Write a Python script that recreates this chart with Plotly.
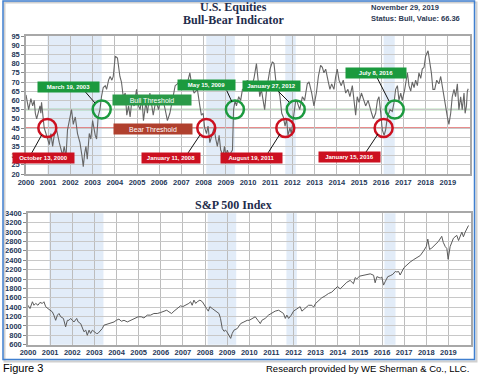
import plotly.graph_objects as go

W, H = 481, 375

# ---------------- data ----------------
bb_year = [2000.00, 2000.12, 2000.22, 2000.30, 2000.37, 2000.42, 2000.48, 2000.57, 2000.63, 2000.67,
           2000.70, 2000.76, 2000.82, 2000.90, 2000.97, 2001.05, 2001.12, 2001.20, 2001.27, 2001.38,
           2001.50, 2001.57, 2001.65, 2001.72, 2001.80, 2001.87, 2001.99, 2002.05, 2002.13, 2002.22,
           2002.32, 2002.43, 2002.52, 2002.58, 2002.64, 2002.70, 2002.76, 2002.85, 2002.92, 2003.00,
           2003.12, 2003.18, 2003.25, 2003.33, 2003.40, 2003.48, 2003.57, 2003.63, 2003.72, 2003.79,
           2003.87, 2003.93, 2004.02, 2004.12, 2004.23, 2004.30, 2004.38, 2004.47, 2004.54, 2004.62,
           2004.69, 2004.77, 2004.87, 2004.98, 2005.07, 2005.14, 2005.22, 2005.29, 2005.40, 2005.47,
           2005.58, 2005.65, 2005.73, 2005.85, 2005.97, 2006.07, 2006.18, 2006.27, 2006.37, 2006.48,
           2006.60, 2006.72, 2006.82, 2006.97, 2007.08, 2007.20, 2007.38, 2007.47, 2007.57, 2007.72,
           2007.83, 2007.90, 2007.98, 2008.05, 2008.13, 2008.20, 2008.28, 2008.40, 2008.47, 2008.55,
           2008.62, 2008.70, 2008.77, 2008.88, 2008.94, 2009.00, 2009.07, 2009.15, 2009.24, 2009.30,
           2009.35, 2009.42, 2009.48, 2009.58, 2009.67, 2009.75, 2009.82, 2009.97, 2010.12, 2010.27,
           2010.38, 2010.45, 2010.53, 2010.60, 2010.68, 2010.75, 2010.84, 2010.92, 2010.99, 2011.10,
           2011.17, 2011.25, 2011.32, 2011.44, 2011.52, 2011.59, 2011.67, 2011.74, 2011.80, 2011.89,
           2011.95, 2012.04, 2012.15, 2012.22, 2012.33, 2012.45, 2012.55, 2012.67, 2012.75, 2012.87,
           2012.97, 2013.08, 2013.17, 2013.27, 2013.35, 2013.42, 2013.50, 2013.60, 2013.69, 2013.77,
           2013.87, 2013.95, 2014.02, 2014.10, 2014.20, 2014.29, 2014.40, 2014.50, 2014.59, 2014.70,
           2014.77, 2014.85, 2014.92, 2015.00, 2015.11, 2015.20, 2015.30, 2015.41, 2015.50, 2015.57,
           2015.65, 2015.75, 2015.83, 2015.90, 2015.98, 2016.05, 2016.13, 2016.20, 2016.28, 2016.40,
           2016.50, 2016.58, 2016.65, 2016.73, 2016.80, 2016.88, 2016.95, 2017.06, 2017.18, 2017.25,
           2017.33, 2017.40, 2017.48, 2017.55, 2017.63, 2017.70, 2017.78, 2017.85, 2017.93, 2018.00,
           2018.11, 2018.18, 2018.26, 2018.33, 2018.41, 2018.50, 2018.60, 2018.68, 2018.75, 2018.83,
           2018.90, 2018.98, 2019.05, 2019.13, 2019.20, 2019.28, 2019.35, 2019.43, 2019.50, 2019.58,
           2019.65, 2019.73, 2019.78, 2019.84, 2019.88, 2019.92]
bb_value = [63, 55, 61, 57, 60, 53, 50, 55, 57, 53,
            59, 52, 45, 42, 39, 36, 42, 35, 41, 44,
            37, 33, 30, 35, 29, 44, 53, 55, 47, 51,
            42, 37, 30, 24, 31, 35, 28, 42, 39, 49,
            41, 39, 51, 55, 62, 67, 68, 66, 71, 73,
            71, 73, 84, 83, 73, 70, 62, 64, 52, 57,
            51, 60, 57, 66, 57, 55, 62, 49, 59, 53,
            64, 59, 52, 60, 55, 62, 60, 55, 49, 53,
            60, 68, 69, 71, 69, 66, 75, 68, 64, 66,
            57, 52, 53, 45, 42, 46, 37, 42, 45, 39,
            35, 41, 33, 30, 35, 30, 33, 30, 32, 33,
            55, 60, 57, 62, 60, 66, 66, 71, 66, 72,
            80, 71, 62, 66, 60, 55, 66, 71, 77, 81,
            80, 71, 69, 62, 53, 51, 46, 50, 41, 45,
            42, 50, 60, 59, 55, 62, 60, 69, 70, 64,
            57, 64, 73, 79, 78, 75, 77, 71, 66, 69,
            66, 73, 77, 71, 68, 71, 64, 66, 62, 68,
            60, 52, 62, 59, 64, 60, 57, 60, 55, 53,
            50, 53, 60, 62, 53, 44, 41, 44, 51, 55,
            54, 59, 66, 68, 60, 64, 60, 66, 75, 68,
            65, 70, 67, 71, 68, 75, 72, 77, 78, 84,
            87, 82, 75, 66, 66, 71, 69, 73, 68, 62,
            55, 51, 47, 53, 62, 66, 62, 69, 55, 62,
            55, 64, 53, 57, 65, 66.36]

spx_year = [2000.00, 2000.09, 2000.20, 2000.27, 2000.35, 2000.45, 2000.54, 2000.65, 2000.72, 2000.80,
            2000.90, 2000.99, 2001.10, 2001.17, 2001.25, 2001.33, 2001.40, 2001.48, 2001.60, 2001.70,
            2001.78, 2001.85, 2001.93, 2002.00, 2002.08, 2002.20, 2002.27, 2002.38, 2002.45, 2002.53,
            2002.61, 2002.68, 2002.76, 2002.83, 2002.91, 2003.00, 2003.09, 2003.16, 2003.25, 2003.36,
            2003.43, 2003.58, 2003.73, 2003.89, 2003.99, 2004.11, 2004.22, 2004.34, 2004.49, 2004.64,
            2004.79, 2004.98, 2005.12, 2005.24, 2005.39, 2005.54, 2005.69, 2005.84, 2005.99, 2006.14,
            2006.27, 2006.37, 2006.49, 2006.60, 2006.75, 2006.90, 2006.99, 2007.12, 2007.27, 2007.35,
            2007.42, 2007.50, 2007.58, 2007.65, 2007.77, 2007.88, 2008.00, 2008.07, 2008.15, 2008.22,
            2008.33, 2008.42, 2008.52, 2008.63, 2008.70, 2008.78, 2008.86, 2008.93, 2008.99, 2009.08,
            2009.16, 2009.23, 2009.31, 2009.46, 2009.61, 2009.76, 2009.91, 2010.00, 2010.12, 2010.27,
            2010.39, 2010.50, 2010.57, 2010.72, 2010.87, 2010.99, 2011.17, 2011.33, 2011.45, 2011.55,
            2011.63, 2011.70, 2011.78, 2011.90, 2012.00, 2012.15, 2012.30, 2012.38, 2012.50, 2012.68,
            2012.83, 2012.91, 2013.00, 2013.13, 2013.28, 2013.43, 2013.58, 2013.73, 2013.89, 2013.99,
            2014.11, 2014.26, 2014.41, 2014.56, 2014.71, 2014.79, 2014.86, 2014.98, 2015.17, 2015.32,
            2015.47, 2015.62, 2015.69, 2015.77, 2015.92, 2015.99, 2016.07, 2016.14, 2016.26, 2016.37,
            2016.49, 2016.60, 2016.67, 2016.75, 2016.82, 2016.99, 2017.12, 2017.27, 2017.42, 2017.58,
            2017.73, 2017.88, 2018.00, 2018.07, 2018.15, 2018.25, 2018.40, 2018.55, 2018.70, 2018.77,
            2018.86, 2018.93, 2018.99, 2019.08, 2019.23, 2019.38, 2019.46, 2019.61, 2019.68, 2019.76,
            2019.91]
spx_value = [1440, 1370, 1515, 1440, 1480, 1440, 1500, 1480, 1515, 1410,
             1370, 1335, 1300, 1230, 1120, 1230, 1265, 1195, 1160, 980,
             1120, 1120, 1160, 1120, 1085, 1160, 1085, 1050, 945, 875,
             910, 800, 910, 840, 910, 875, 840, 840, 885, 945,
             1015, 1035, 1050, 1085, 1120, 1145, 1100, 1120, 1085, 1120,
             1160, 1195, 1195, 1170, 1230, 1230, 1265, 1265, 1285, 1315,
             1335, 1300, 1265, 1315, 1370, 1430, 1410, 1440, 1480, 1515,
             1440, 1550, 1480, 1515, 1550, 1515, 1440, 1370, 1315, 1410,
             1370, 1335, 1315, 1265, 1160, 945, 885, 910, 875, 800,
             735, 840, 910, 945, 1050, 1085, 1120, 1120, 1160, 1195,
             1120, 1050, 1120, 1160, 1230, 1265, 1315, 1335, 1300, 1265,
             1160, 1230, 1160, 1230, 1315, 1370, 1410, 1315, 1370, 1440,
             1440, 1400, 1480, 1540, 1600, 1640, 1690, 1720, 1790, 1840,
             1790, 1870, 1930, 1970, 1900, 2030, 2000, 2060, 2085, 2100,
             2110, 2080, 1920, 2050, 2020, 2040, 1870, 1940, 2050, 2070,
             2100, 2160, 2150, 2160, 2085, 2240, 2300, 2360, 2410, 2450,
             2500, 2600, 2690, 2850, 2630, 2660, 2720, 2800, 2910, 2780,
             2690, 2650, 2420, 2690, 2870, 2930, 2820, 3000, 2900, 3000,
             3140]

year_ticks = list(range(2000, 2020))
bb_ticks = list(range(20, 100, 5))
spx_ticks = list(range(600, 3600, 200))

bull_threshold = 55
bear_threshold = 45

signal_labels = ["October 13, 2000", "March 19, 2003", "January 11, 2008", "May 15, 2009",
                 "August 19, 2011", "January 27, 2012", "January 15, 2016", "July 8, 2016"]
signal_kind = ["bear", "bull", "bear", "bull", "bear", "bull", "bear", "bull"]
signal_pos = [2000.96, 2003.41, 2008.12, 2009.41, 2011.68, 2012.15, 2016.11, 2016.61]

# ---------------- helpers ----------------
def fx(px):
    return px / W

def fy(py):
    return 1 - py / H

NAVY = "#263859"
GRID = "#c8c8c8"
GREEN = "#1b9a3e"
RED = "#cc1020"

fig = go.Figure()
fig.add_trace(go.Scatter(x=bb_year, y=bb_value, mode="lines",
                         line=dict(color="#666666", width=1.1),
                         xaxis="x", yaxis="y", showlegend=False, hoverinfo="skip"))
fig.add_trace(go.Scatter(x=spx_year, y=spx_value, mode="lines",
                         line=dict(color="#5a5a5a", width=1.0),
                         xaxis="x2", yaxis="y2", showlegend=False, hoverinfo="skip"))

tickfont = dict(family="Liberation Sans, Arial", size=7.5, color=NAVY, weight="bold")
common_x = dict(range=[2000, 2020], tickmode="array", tickvals=year_ticks,
                ticktext=[str(y) for y in year_ticks], showgrid=True, gridcolor="#bdbdbd",
                gridwidth=1.3, zeroline=False, showline=True, linecolor="#a8a8a8",
                linewidth=1.5, mirror=True, ticks="", tickfont=tickfont, fixedrange=True,
                automargin=False)
common_y = dict(tickmode="array", showgrid=True, gridcolor=GRID, gridwidth=1.3,
                zeroline=False, showline=True, linecolor="#a8a8a8", linewidth=1.5,
                mirror=True, ticks="outside", ticklen=3, tickcolor="#888",
                tickfont=tickfont, fixedrange=True, automargin=False)

fig.update_layout(
    template="none",
    width=W, height=H, margin=dict(l=0, r=0, t=0, b=0, pad=0),
    paper_bgcolor="white", plot_bgcolor="white",
    xaxis=dict(domain=[fx(26), fx(470)], anchor="y", **common_x),
    yaxis=dict(domain=[fy(174), fy(36)], anchor="x", range=[20, 95],
               tickvals=bb_ticks, ticktext=[str(v) for v in bb_ticks], **common_y),
    xaxis2=dict(domain=[fx(28), fx(470.5)], anchor="y2", **common_x),
    yaxis2=dict(domain=[fy(344.7), fy(213.3)], anchor="x2", range=[600, 3400],
                tickvals=spx_ticks, ticktext=[str(v) for v in spx_ticks], **common_y),
)

shapes = []
# shaded bear periods in both panels
for i in range(0, len(signal_pos), 2):
    for xr, yr in (("x", "y domain"), ("x2", "y2 domain")):
        shapes.append(dict(type="rect", xref=xr, yref=yr, x0=signal_pos[i], x1=signal_pos[i + 1],
                           y0=0, y1=1, fillcolor="#e2ecf8", line=dict(width=0), layer="below"))
# thresholds
shapes.append(dict(type="line", xref="x domain", yref="y", x0=0, x1=1, y0=bull_threshold,
                   y1=bull_threshold, line=dict(color="#6cc070", width=1.5), layer="below"))
shapes.append(dict(type="line", xref="x domain", yref="y", x0=0, x1=1, y0=bear_threshold,
                   y1=bear_threshold, line=dict(color="#e06666", width=1.5), layer="below"))
# circles
for pos, kind in zip(signal_pos, signal_kind):
    yv = bull_threshold if kind == "bull" else bear_threshold
    col = GREEN if kind == "bull" else RED
    shapes.append(dict(type="circle", xref="x", yref="y", xsizemode="pixel", ysizemode="pixel",
                       xanchor=pos, yanchor=yv, x0=-9, x1=9, y0=-9, y1=9,
                       line=dict(color=col, width=2.5), layer="above"))

# callout labels (layout positions in pixels): center x, center y, width
label_boxes = [(43.5, 158, 61), (68.5, 86.5, 61), (171, 158, 58), (206.5, 85.5, 57),
               (251.5, 158, 61), (271.5, 86, 57), (349.5, 157, 61), (376, 72.5, 60)]
connectors = [((31.7, 153), (41.7, 135)), ((85, 91.5), (95, 103)), ((188, 153), (200, 135)),
              ((226.7, 90.5), (232, 102)), ((268, 153), (280, 134)), ((278, 91), (289, 102)),
              ((366, 152), (378, 134)), ((377, 77.5), (389, 101))]
for (a, b) in connectors:
    shapes.append(dict(type="line", xref="paper", yref="paper", x0=fx(a[0]), y0=fy(a[1]),
                       x1=fx(b[0]), y1=fy(b[1]), line=dict(color="#111", width=1)))

# frame
shapes.append(dict(type="rect", xref="paper", yref="paper", x0=fx(4.5), x1=fx(476.5),
                   y0=fy(361.5), y1=fy(2.5), line=dict(color="#d0d0d0", width=2)))
shapes.append(dict(type="rect", xref="paper", yref="paper", x0=fx(3), x1=fx(474.5),
                   y0=fy(359.5), y1=fy(1), line=dict(color="#3f7fd0", width=1.5),
                   fillcolor="rgba(0,0,0,0)"))
fig.update_layout(shapes=shapes)

ann = []
for (cx, cy, w), text, kind in zip(label_boxes, signal_labels, signal_kind):
    ann.append(dict(xref="paper", yref="paper", x=fx(cx), y=fy(cy), text="<b>%s</b>" % text,
                    showarrow=False, xanchor="center", yanchor="middle", width=w, height=10,
                    borderpad=0, bgcolor=GREEN if kind == "bull" else RED,
                    font=dict(family="Liberation Sans, Arial", size=6, color="white")))
ann.append(dict(xref="paper", yref="paper", x=fx(152), y=fy(100), text="Bull Threshold",
                showarrow=False, xanchor="center", yanchor="middle", width=78, height=10,
                borderpad=0, bgcolor="#2a9a48",
                font=dict(family="Liberation Sans, Arial", size=7, color="white")))
ann.append(dict(xref="paper", yref="paper", x=fx(153), y=fy(129), text="Bear Threshold",
                showarrow=False, xanchor="center", yanchor="middle", width=78, height=10,
                borderpad=0, bgcolor="#b0402e",
                font=dict(family="Liberation Sans, Arial", size=7, color="white")))

title_font = dict(family="Liberation Serif, DejaVu Serif", size=12, color="#1f2d4d")
ann.append(dict(xref="paper", yref="paper", x=fx(233.5), y=fy(7), text="<b>U.S. Equities</b>",
                showarrow=False, xanchor="center", yanchor="middle", font=title_font))
ann.append(dict(xref="paper", yref="paper", x=fx(233.5), y=fy(19.5),
                text="<b>Bull-Bear Indicator</b>", showarrow=False, xanchor="center",
                yanchor="middle", font=title_font))
ann.append(dict(xref="paper", yref="paper", x=fx(233.5), y=fy(205), text="<b>S&P 500 Index</b>",
                showarrow=False, xanchor="center", yanchor="middle", font=title_font))
status_font = dict(family="Liberation Sans, Arial", size=7.5, color="#2d3a55")
ann.append(dict(xref="paper", yref="paper", x=fx(369), y=fy(8), text="<b>November 29, 2019</b>",
                showarrow=False, xanchor="left", yanchor="middle", font=status_font))
ann.append(dict(xref="paper", yref="paper", x=fx(369), y=fy(18),
                text="<b>Status: Bull, Value: 66.36</b>", showarrow=False, xanchor="left",
                yanchor="middle", font=status_font))
ann.append(dict(xref="paper", yref="paper", x=fx(0.5), y=fy(368), text="Figure 3",
                showarrow=False, xanchor="left", yanchor="middle",
                font=dict(family="Liberation Sans, Arial", size=11, color="black")))
ann.append(dict(xref="paper", yref="paper", x=fx(471), y=fy(368),
                text="Research provided by WE Sherman & Co., LLC.", showarrow=False,
                xanchor="right", yanchor="middle",
                font=dict(family="Liberation Sans, Arial", size=9.5, color="black")))
fig.update_layout(annotations=ann)

fig.write_html("out.html", config={"displayModeBar": False},
               post_script="document.body.style.margin='0px';")
